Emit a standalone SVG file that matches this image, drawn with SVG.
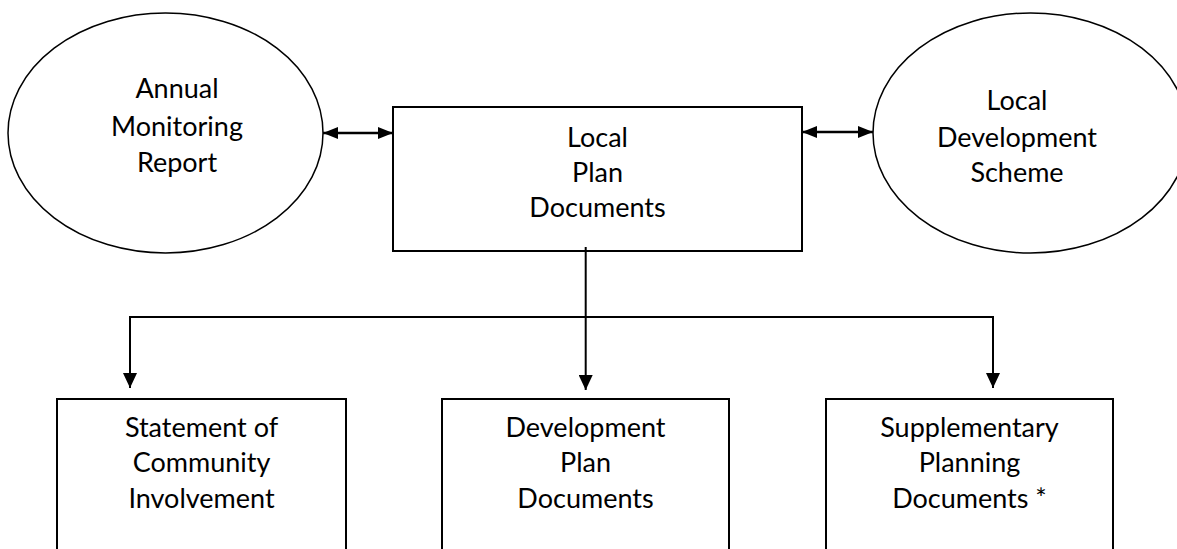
<svg xmlns="http://www.w3.org/2000/svg" width="1177" height="549" viewBox="0 0 1177 549">
  <style>
    .ell { fill: #fff; stroke: #000; stroke-width: 1.5; }
    .box { fill: #fff; stroke: #000; stroke-width: 2; }
    .lbl { font-family: Lato, "Liberation Sans", sans-serif; font-size: 27px; fill: #000; text-anchor: middle; }
    .con { fill: none; stroke: #000; stroke-width: 2; }
    .dbl { fill: none; stroke: #000; stroke-width: 2.6; }
  </style>
  <defs>
    <marker id="ah" viewBox="0 0 15 12" refX="15" refY="6" markerWidth="15" markerHeight="12" markerUnits="userSpaceOnUse" orient="auto-start-reverse">
      <path d="M0,0 L15,6 L0,12 Z" fill="#000"/>
    </marker>
    <marker id="av" viewBox="0 0 15 14" refX="15" refY="7" markerWidth="15" markerHeight="14" markerUnits="userSpaceOnUse" orient="auto">
      <path d="M0,0 L15,7 L0,14 Z" fill="#000"/>
    </marker>
  </defs>
  <rect width="1177" height="549" fill="#fff"/>

  <g id="amr">
    <ellipse class="ell" cx="165.5" cy="133" rx="157.5" ry="120"/>
    <text class="lbl" x="177" y="98.3">Annual</text>
    <text class="lbl" x="177" y="135.7">Monitoring</text>
    <text class="lbl" x="177" y="171.7">Report</text>
  </g>

  <g id="lds">
    <ellipse class="ell" cx="1030.5" cy="133" rx="157.5" ry="120"/>
    <text class="lbl" x="1017" y="110">Local</text>
    <text class="lbl" x="1017" y="146.7">Development</text>
    <text class="lbl" x="1017" y="181.7">Scheme</text>
  </g>

  <g id="lpd">
    <rect class="box" x="393" y="107" width="409" height="144"/>
    <text class="lbl" x="597.5" y="146.7">Local</text>
    <text class="lbl" x="597.5" y="181.7">Plan</text>
    <text class="lbl" x="597.5" y="217.3">Documents</text>
  </g>

  <g id="sci">
    <rect class="box" x="57" y="399" width="289" height="170"/>
    <text class="lbl" x="201.5" y="436.7">Statement of</text>
    <text class="lbl" x="201.5" y="472">Community</text>
    <text class="lbl" x="201.5" y="508">Involvement</text>
  </g>

  <g id="dpd">
    <rect class="box" x="442" y="399" width="287" height="170"/>
    <text class="lbl" x="585.5" y="436.7">Development</text>
    <text class="lbl" x="585.5" y="472">Plan</text>
    <text class="lbl" x="585.5" y="508">Documents</text>
  </g>

  <g id="spd">
    <rect class="box" x="826" y="399" width="287" height="170"/>
    <text class="lbl" x="969.5" y="436.7">Supplementary</text>
    <text class="lbl" x="969.5" y="472">Planning</text>
    <text class="lbl" x="969.5" y="508">Documents *</text>
  </g>

  <g id="connectors">
    <path class="dbl" d="M323,133 L393,133" marker-start="url(#ah)" marker-end="url(#ah)"/>
    <path class="dbl" d="M802,132 L873,132" marker-start="url(#ah)" marker-end="url(#ah)"/>
    <path class="con" d="M585.7,247 L585.7,390" marker-end="url(#av)"/>
    <path class="con" d="M129,317 L994,317"/>
    <path class="con" d="M130,316 L130,388" marker-end="url(#av)"/>
    <path class="con" d="M993,316 L993,388" marker-end="url(#av)"/>
  </g>
</svg>
